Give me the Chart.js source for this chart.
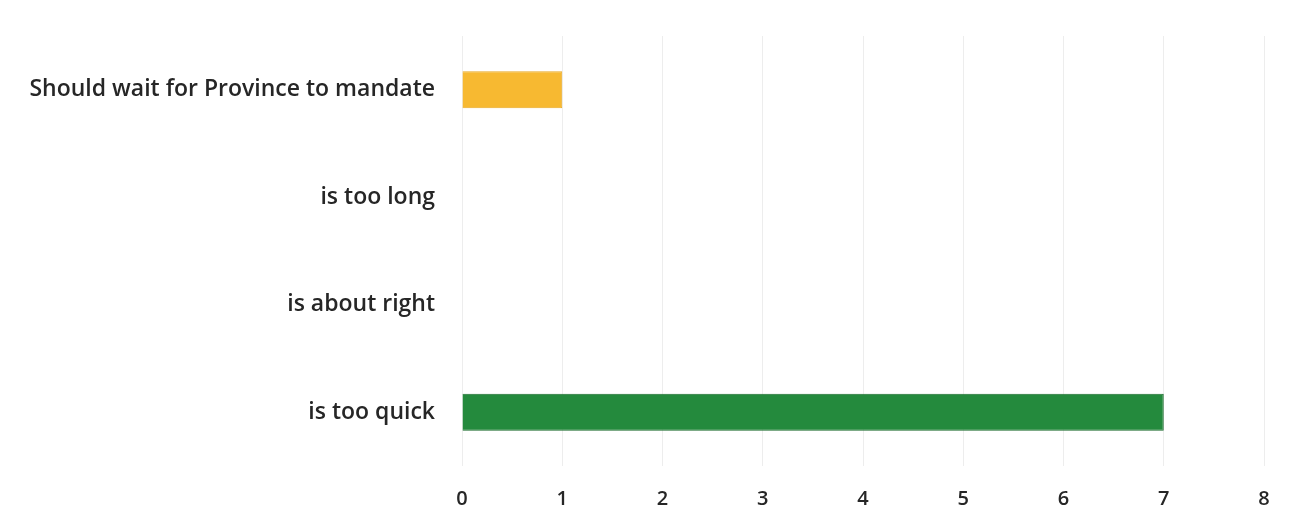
<!DOCTYPE html>
<html>
<head>
<meta charset="utf-8">
<script src="https://cdn.jsdelivr.net/npm/chart.js@4/dist/chart.umd.min.js"></script>
<style>
  html, body { margin: 0; padding: 0; background: #ffffff; }
  #wrap { width: 1307px; height: 529px; position: relative; }
</style>
</head>
<body>
<div id="wrap"><canvas id="chart" width="1307" height="529"></canvas></div>
<script>
// Survey responses about the proposed timeline
const categories = ["Should wait for Province to mandate", "is too long", "is about right", "is too quick"];
const responses = [1, 0, 0, 7];
const barColors = ["#f7b931", "#f7b931", "#f7b931", "#248a3d"];
const barBorders = ["#e9a923", "#e9a923", "#e9a923", "#196a2c"];
const xTicks = [0, 1, 2, 3, 4, 5, 6, 7, 8];

const categoryFont = { family: "'Open Sans', Lato, sans-serif", size: 23, weight: "600" };
const valueFont = { family: "'Open Sans', Lato, sans-serif", size: 20, weight: "600" };

// Slightly wider letter spacing for all chart text
const spacing = {
  id: "spacing",
  beforeInit(chart) { chart.ctx.letterSpacing = "0.5px"; }
};

new Chart(document.getElementById("chart"), {
  type: "bar",
  data: {
    labels: categories,
    datasets: [{
      data: responses,
      backgroundColor: barColors,
      borderColor: barBorders,
      borderWidth: 1,
      barPercentage: 0.69,
      categoryPercentage: 0.5
    }]
  },
  options: {
    indexAxis: "y",
    responsive: false,
    animation: false,
    layout: { padding: { top: 36, right: 43, bottom: 0, left: 0 } },
    plugins: { legend: { display: false }, tooltip: { enabled: false } },
    scales: {
      x: {
        type: "linear",
        min: xTicks[0],
        max: xTicks[xTicks.length - 1],
        afterBuildTicks: (axis) => { axis.ticks = xTicks.map(v => ({ value: v })); },
        afterFit: (axis) => { axis.height = 63; },
        grid: { color: "rgba(0,0,0,0.07)", drawTicks: false },
        border: { display: false },
        ticks: { color: "#262626", font: valueFont, padding: 21 }
      },
      y: {
        afterFit: (axis) => { axis.width = 462; axis.paddingTop = 0; axis.paddingBottom = 0; },
        grid: { display: false, drawTicks: false },
        border: { display: false },
        ticks: { color: "#262626", font: categoryFont, padding: 27 }
      }
    }
  },
  plugins: [spacing]
});
</script>
</body>
</html>
